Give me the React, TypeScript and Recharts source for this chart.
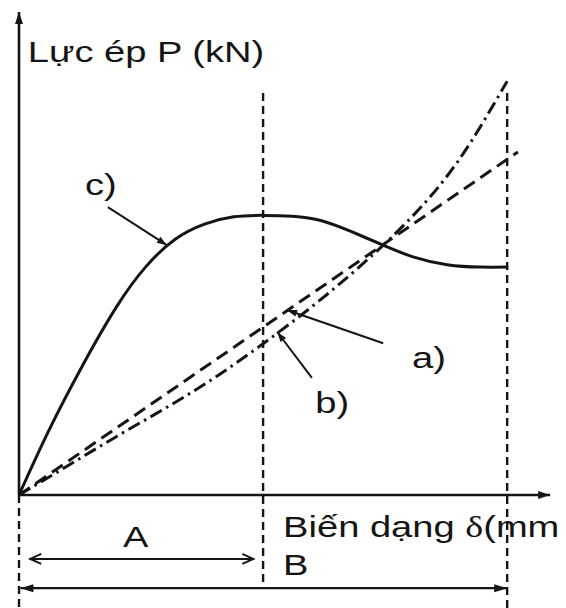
import React from 'react';
import { LineChart, Line, XAxis, YAxis, ReferenceLine, ReferenceDot } from 'recharts';

// curve c) - solid
const cX = [0, 6, 13, 20, 26, 32, 38, 44, 50, 56, 62, 68, 74.6, 80.7, 87.7, 94.5, 100.2];
const cY = [0, 13, 26.5, 38.6, 46.8, 52.4, 55.5, 57, 57.3, 57.1, 56.2, 54, 51.2, 48.8, 47.2, 46.7, 46.7];

// curve b) - dash dot
const bX = [0, 10, 20, 30, 40, 50, 60, 70, 80, 90, 100];
const bY = [0, 6, 12, 17.8, 24, 31, 38.6, 47, 56.5, 68.5, 84.8];

// line a) - dashed, straight
const aX = [0, 102.2];
const aY = [0, 70.3];

// limits A and B on the deformation axis
const limitA = 50;
const limitB = 100;

const INK = '#151515';
const FONT = '"Liberation Sans", Arial, sans-serif';

const toPts = (xs: number[], ys: number[]) => xs.map((x, i) => ({ x, y: ys[i] }));

const Arrow = (p: any) => {
  const { x1, y1, x2, y2, w = 2, both, open, size = 11, half = 4 } = p;
  const head = (tx: number, ty: number, fx: number, fy: number, k: string) => {
    const a = Math.atan2(ty - fy, tx - fx);
    const bx = tx - size * Math.cos(a);
    const by = ty - size * Math.sin(a);
    const l = `${bx - half * Math.sin(a)},${by + half * Math.cos(a)}`;
    const r = `${bx + half * Math.sin(a)},${by - half * Math.cos(a)}`;
    return open
      ? <polyline key={k} points={`${l} ${tx},${ty} ${r}`} fill="none" stroke={INK} strokeWidth={w} />
      : <polygon key={k} points={`${l} ${tx},${ty} ${r}`} fill={INK} stroke="none" />;
  };
  return (
    <g>
      <line x1={x1} y1={y1} x2={x2} y2={y2} stroke={INK} strokeWidth={w} />
      {head(x2, y2, x1, y1, 'e')}
      {both && head(x1, y1, x2, y2, 's')}
    </g>
  );
};

const Txt = ({ cx, cy, text, size = 30, sx = 1.27 }: any) => (
  <text transform={`translate(${cx},${cy}) scale(${sx},1)`} fontFamily={FONT} fontSize={size} fill={INK}>
    {text}
  </text>
);

const labels = [
  { x: 1.8, y: 88.8, text: 'Lực ép P (kN)' },
  { x: 13.5, y: 61.5, text: 'c)' },
  { x: 80.5, y: 26, text: 'a)' },
  { x: 60.7, y: 16.8, text: 'b)' },
  { x: 21.3, y: -10.7, text: 'A' },
  { x: 54.1, y: -16.4, text: 'B' },
];

const guide = { stroke: INK, strokeWidth: 2.4, strokeDasharray: '8 5', ifOverflow: 'visible' as const };

export default function App() {
  return (
    <div style={{ position: 'absolute', left: 0, top: 0, background: '#fff' }}>
      <LineChart width={566} height={608} margin={{ top: 7, right: 10, bottom: 113, left: 19 }}>
        <XAxis type="number" dataKey="x" domain={[0, 110]} hide allowDataOverflow />
        <YAxis type="number" dataKey="y" domain={[0, 100]} hide allowDataOverflow />

        {/* dashed guide lines */}
        <ReferenceLine segment={[{ x: 0, y: 0 }, { x: 0, y: -24 }]} {...guide} />
        <ReferenceLine segment={[{ x: limitA, y: 82.4 }, { x: limitA, y: -18.9 }]} {...guide} />
        <ReferenceLine segment={[{ x: limitB, y: 82.4 }, { x: limitB, y: -24 }]} {...guide} />

        {/* axes */}
        <ReferenceLine segment={[{ x: 0, y: 0 }, { x: 108.8, y: 0 }]} ifOverflow="visible" shape={(p: any) => <Arrow {...p} w={2.6} size={12} half={4} />} />
        <ReferenceLine segment={[{ x: 0, y: 0 }, { x: 0, y: 99 }]} ifOverflow="visible" shape={(p: any) => <Arrow {...p} w={2.6} size={12} half={4} />} />

        {/* ranges A and B */}
        <ReferenceLine segment={[{ x: 2.3, y: -13.1 }, { x: 48, y: -13.1 }]} ifOverflow="visible" shape={(p: any) => <Arrow {...p} both open w={2} size={11} half={5} />} />
        <ReferenceLine segment={[{ x: 0.3, y: -19.1 }, { x: 100, y: -19.1 }]} ifOverflow="visible" shape={(p: any) => <Arrow {...p} both w={2.2} size={13} half={4} />} />

        {/* pointers */}
        <ReferenceLine segment={[{ x: 18.2, y: 59 }, { x: 30.3, y: 51.2 }]} ifOverflow="visible" shape={(p: any) => <Arrow {...p} w={2} size={10} half={3.5} />} />
        <ReferenceLine segment={[{ x: 74.6, y: 31.1 }, { x: 54.9, y: 37.9 }]} ifOverflow="visible" shape={(p: any) => <Arrow {...p} w={2} size={10} half={3.5} />} />
        <ReferenceLine segment={[{ x: 60, y: 24 }, { x: 52.9, y: 33.4 }]} ifOverflow="visible" shape={(p: any) => <Arrow {...p} w={2} size={10} half={3.5} />} />

        <Line data={toPts(aX, aY)} dataKey="y" type="linear" stroke={INK} strokeWidth={3} strokeDasharray="13 7" dot={false} isAnimationActive={false} />
        <Line data={toPts(bX, bY)} dataKey="y" type="natural" stroke={INK} strokeWidth={3} strokeDasharray="13 5 2.5 5" dot={false} isAnimationActive={false} />
        <Line data={toPts(cX, cY)} dataKey="y" type="natural" stroke={INK} strokeWidth={3} dot={false} isAnimationActive={false} />

        {labels.map((l) => (
          <ReferenceDot key={l.text} x={l.x} y={l.y} ifOverflow="visible" shape={(p: any) => <Txt {...p} text={l.text} />} />
        ))}
        <ReferenceDot
          x={54.1}
          y={-8.6}
          ifOverflow="visible"
          shape={(p: any) => (
            <text transform={`translate(${p.cx},${p.cy}) scale(1.27,1)`} fontFamily={FONT} fontSize={30} fill={INK}>
              Biến dạng <tspan fontFamily='"Liberation Serif", serif'>δ</tspan>(mm
            </text>
          )}
        />
      </LineChart>
    </div>
  );
}
